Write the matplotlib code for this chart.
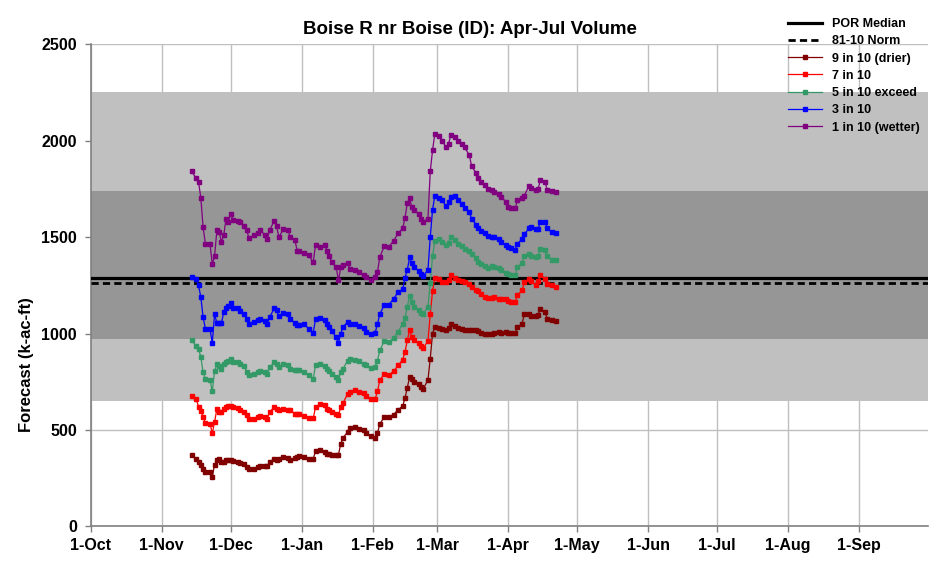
import datetime as dt
import matplotlib
matplotlib.use('Agg')
import matplotlib.pyplot as plt

plt.rcParams['font.family'] = ['Liberation Sans', 'DejaVu Sans']
plt.rcParams['font.weight'] = 'bold'

# water year start; days below are counted from here
wy_start = dt.date(2016, 10, 1)

# forecast issue days (days since 1-Oct)
days = [44, 46, 47, 48, 49, 50, 52, 53, 54, 55,
        56, 57, 58, 59, 60, 61, 62, 64, 65, 67,
        68, 69, 71, 73, 74, 76, 77, 78, 80, 81,
        82, 84, 86, 87, 89, 90, 91, 93, 95, 97,
        98, 100, 102, 103, 104, 105, 107, 108, 109, 110,
        112, 113, 115, 117, 119, 120, 122, 124, 125, 126,
        128, 130, 132, 134, 136, 137, 138, 139, 140, 141,
        143, 144, 145, 147, 148, 149, 150, 152, 153, 155,
        156, 157, 159, 160, 162, 163, 165, 166, 168, 169,
        170, 172, 173, 175, 176, 178, 179, 181, 182, 183,
        185, 186, 188, 189, 191, 192, 194, 195, 196, 198,
        199, 201, 203]

# exceedance forecasts (k-ac-ft)
p90 = [368, 351, 335, 320, 300, 285, 280, 256, 320, 345,
       352, 334, 334, 346, 346, 344, 342, 336, 328, 322,
       308, 300, 300, 308, 315, 312, 311, 334, 351, 346,
       352, 358, 355, 346, 356, 362, 366, 358, 348, 351,
       391, 394, 385, 378, 377, 373, 368, 373, 429, 460,
       490, 512, 515, 507, 498, 484, 470, 460, 485, 530,
       570, 570, 580, 605, 625, 665, 720, 775, 765, 750,
       738, 725, 714, 760, 870, 1000, 1035, 1030, 1025, 1017,
       1030, 1050, 1040, 1030, 1025, 1020, 1017, 1018, 1020, 1013,
       1005, 998, 996, 998, 1003, 1008, 1003, 1006, 1005, 1003,
       1003, 1034, 1051, 1100, 1103, 1090, 1089, 1095, 1129, 1112,
       1077, 1068, 1065]
p70 = [674, 662, 620, 600, 567, 536, 533, 484, 540, 610,
       595, 593, 610, 620, 622, 622, 618, 612, 605, 593,
       576, 555, 556, 567, 572, 570, 558, 593, 619, 610,
       602, 608, 605, 602, 585, 582, 584, 575, 560, 560,
       619, 633, 628, 610, 605, 593, 584, 576, 620, 640,
       688, 697, 705, 697, 690, 675, 662, 662, 700, 757,
       792, 785, 805, 835, 865, 905, 965, 1017, 982, 965,
       950, 935, 927, 960, 1100, 1220, 1290, 1285, 1265, 1265,
       1276, 1302, 1290, 1276, 1270, 1265, 1255, 1241, 1228, 1218,
       1205, 1190, 1182, 1186, 1189, 1181, 1178, 1181, 1169, 1165,
       1164, 1200, 1224, 1265, 1285, 1270, 1250, 1270, 1302, 1285,
       1259, 1250, 1241]
p50 = [965, 935, 920, 880, 800, 765, 760, 700, 805, 840,
       830, 818, 844, 850, 860, 870, 855, 852, 840, 830,
       800, 785, 790, 800, 805, 800, 790, 826, 850, 844,
       826, 844, 835, 818, 812, 809, 812, 800, 783, 766,
       835, 844, 830, 815, 805, 788, 775, 757, 800, 818,
       860, 870, 865, 857, 844, 835, 820, 828, 860, 913,
       962, 958, 975, 1010, 1050, 1080, 1140, 1195, 1164, 1138,
       1120, 1108, 1103, 1140, 1260, 1400, 1480, 1490, 1475, 1458,
       1470, 1500, 1485, 1466, 1452, 1440, 1430, 1414, 1390, 1371,
       1359, 1349, 1342, 1349, 1345, 1338, 1328, 1314, 1307, 1302,
       1302, 1345, 1366, 1400, 1414, 1400, 1397, 1400, 1440, 1435,
       1400, 1383, 1380]
p30 = [1295, 1285, 1250, 1190, 1085, 1025, 1025, 950, 1100, 1055,
       1055, 1055, 1110, 1135, 1145, 1160, 1130, 1130, 1115, 1100,
       1075, 1050, 1060, 1070, 1075, 1065, 1050, 1085, 1130, 1120,
       1090, 1105, 1100, 1075, 1055, 1045, 1045, 1050, 1025, 1005,
       1075, 1080, 1070, 1050, 1035, 1015, 980, 950, 1000, 1035,
       1060, 1050, 1050, 1040, 1030, 1010, 1000, 1005, 1050, 1100,
       1150, 1150, 1180, 1215, 1230, 1290, 1330, 1395, 1365, 1345,
       1325, 1310, 1300, 1330, 1500, 1640, 1715, 1705, 1690, 1660,
       1680, 1710, 1715, 1690, 1670, 1650, 1630, 1595, 1565, 1545,
       1530, 1520, 1505, 1500, 1500, 1490, 1475, 1460, 1450, 1445,
       1435, 1465, 1490, 1515, 1545, 1550, 1540, 1540, 1580, 1580,
       1545, 1525, 1520]
p10 = [1840, 1805, 1785, 1705, 1550, 1465, 1465, 1360, 1400, 1535,
       1525, 1475, 1510, 1595, 1580, 1620, 1590, 1585, 1580, 1560,
       1535, 1495, 1510, 1520, 1535, 1510, 1490, 1535, 1585, 1560,
       1500, 1540, 1535, 1500, 1485, 1430, 1430, 1420, 1405, 1370,
       1460, 1450, 1460, 1430, 1400, 1370, 1345, 1275, 1345, 1355,
       1365, 1335, 1330, 1320, 1305, 1295, 1280, 1295, 1320, 1395,
       1455, 1450, 1480, 1520, 1545, 1600, 1675, 1700, 1655, 1640,
       1620, 1595, 1580, 1595, 1840, 1950, 2035, 2025, 2000, 1965,
       1985, 2030, 2020, 2000, 1985, 1965, 1925, 1870, 1830, 1805,
       1785, 1770, 1750, 1745, 1735, 1725, 1710, 1680, 1655, 1650,
       1650, 1690, 1700, 1715, 1765, 1755, 1745, 1750, 1795, 1785,
       1745, 1740, 1735]

por_median = 1290
norm_8110 = 1260
outer_band = (648, 2250)
inner_band = (970, 1740)

series_labels = ['9 in 10 (drier)', '7 in 10', '5 in 10 exceed', '3 in 10', '1 in 10 (wetter)']
series_colors = ['#800000', '#FF0000', '#339966', '#0000FF', '#800080']

dates = [wy_start + dt.timedelta(days=d) for d in days]

fig = plt.figure(figsize=(9.3, 5.66), dpi=100)
ax = fig.add_axes([0.0975, 0.0698, 0.9005, 0.8522])

ax.axhspan(*outer_band, color='#C0C0C0', lw=0, zorder=1)
ax.axhspan(*inner_band, color='#969696', lw=0, zorder=1.1)

h_med = ax.axhline(por_median, color='black', lw=2.3, zorder=3)
h_norm = ax.axhline(norm_8110, color='black', lw=2.0, ls=(0, (2.6, 1.5)), zorder=3)

handles = [h_med, h_norm]
for vals, lab, col in zip([p90, p70, p50, p30, p10], series_labels, series_colors):
    h, = ax.plot(dates, vals, color=col, lw=0.9, marker='s', ms=3.4,
                 mec=col, mfc=col, zorder=4)
    handles.append(h)

ax.set_xlim(wy_start, dt.date(2017, 10, 1))
ax.set_ylim(0, 2500)
ax.set_yticks(range(0, 2501, 500))

month_starts = [dt.date(2016 + (m + 9) // 12, (m + 9) % 12 + 1, 1) for m in range(12)]
ax.set_xticks(month_starts)
ax.set_xticklabels([f"1-{d.strftime('%b')}" for d in month_starts])

ax.set_axisbelow(True)
ax.grid(True, color='#BFBFBF', lw=1)
for s in ['top', 'right']:
    ax.spines[s].set_visible(False)
for s in ['left', 'bottom']:
    ax.spines[s].set_color('#808080')
    ax.spines[s].set_linewidth(1.2)
ax.tick_params(colors='#808080', length=4, width=1, labelcolor='black', labelsize=11.5)
ax.tick_params(axis='x', pad=4)
ax.tick_params(axis='y', pad=6)
for t in ax.get_xticklabels() + ax.get_yticklabels():
    t.set_fontweight('bold')

fig.text(26 / 930, 1 - 365 / 566, 'Forecast (k-ac-ft)', rotation=90,
         ha='center', va='center', fontsize=12, fontweight='bold')
fig.text(470 / 930, 1 - 33.5 / 566, 'Boise R nr Boise (ID): Apr-Jul Volume',
         ha='center', va='baseline', fontsize=13.5, fontweight='bold')

fig.legend(handles, ['POR Median', '81-10 Norm'] + series_labels,
           loc='upper left', bbox_to_anchor=(0.842, 0.977), frameon=False,
           prop={'size': 9, 'weight': 'bold'}, handlelength=2.7,
           handletextpad=0.8, labelspacing=0.42, borderaxespad=0)

fig.savefig('out.png', dpi=100)
